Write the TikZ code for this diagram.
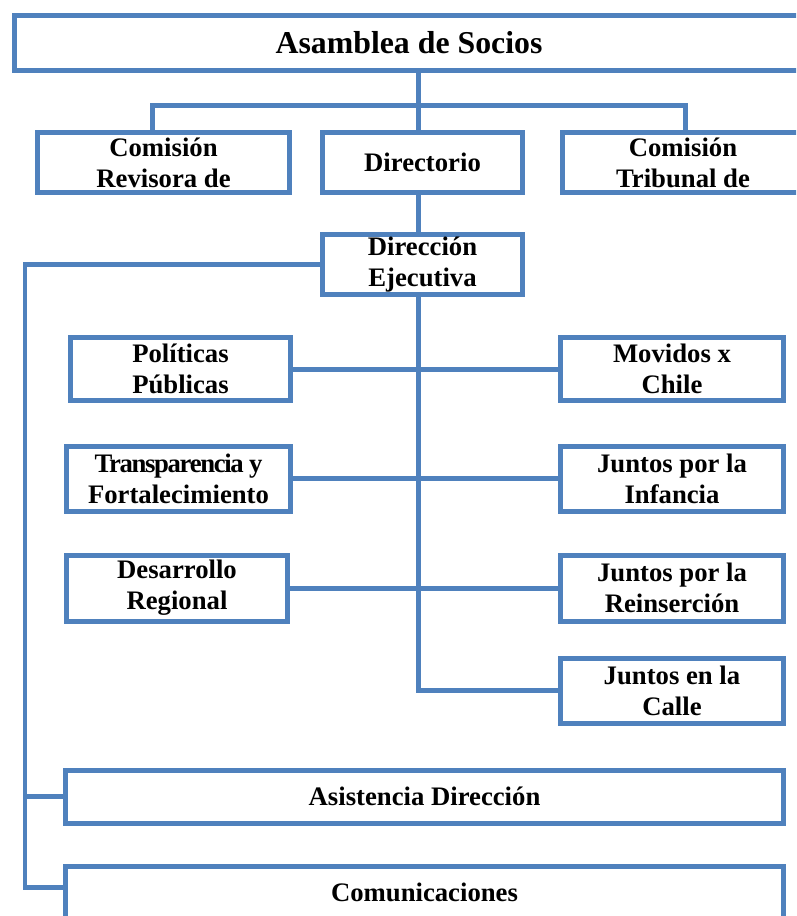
\documentclass[tikz,border=0pt]{standalone}
\usepackage{fontspec}
\setmainfont{Liberation Serif}
\definecolor{orgblue}{RGB}{79,129,189}
\begin{document}
\begin{tikzpicture}[x=0.02cm,y=-0.02cm,
  box/.style={draw=orgblue,line width=0.1cm,fill=white,align=center,inner sep=0pt,
    font=\fontsize{15.2}{17.6}\selectfont\bfseries},
  link/.style={draw=orgblue,line width=0.1cm}]
\path[use as bounding box,clip] (0,0) rectangle (796,916);
% top level
\node[box,minimum width=15.8cm,minimum height=1.12cm,font=\fontsize{18.1}{21}\selectfont\bfseries] (asamblea) at (409,43) {Asamblea de Socios};
\node[box,minimum width=5.06cm,minimum height=1.22cm] (comrev) at (163.5,162.5) {Comisión\\Revisora de};
\node[box,minimum width=4.02cm,minimum height=1.22cm] (directorio) at (422.5,162.5) {Directorio};
\node[box,minimum width=4.84cm,minimum height=1.22cm] (comtrib) at (683,162.5) {Comisión\\Tribunal de};
\node[box,minimum width=4.02cm,minimum height=1.22cm] (direccion) at (422.5,264.5) {Dirección\\Ejecutiva};
% areas
\node[box,minimum width=4.42cm,minimum height=1.28cm] (politicas) at (180.5,369) {Políticas\\Públicas};
\node[box,minimum width=4.48cm,minimum height=1.28cm] (movidos) at (672,369) {Movidos x\\Chile};
\node[box,minimum width=4.5cm,minimum height=1.3cm] (transparencia) at (178.5,478.5) {{\addfontfeature{LetterSpace=-5}Transparencia y}\\Fortalecimiento};
\node[box,minimum width=4.48cm,minimum height=1.3cm] (infancia) at (672,478.5) {Juntos por la\\Infancia};
\node[box,minimum width=4.44cm,minimum height=1.32cm] (desarrollo) at (177,588) {Desarrollo\\Regional};
\node[box,minimum width=4.48cm,minimum height=1.32cm] (reinsercion) at (672,588) {Juntos por la\\Reinserción};
\node[box,minimum width=4.48cm,minimum height=1.3cm] (calle) at (672,690.5) {Juntos en la\\Calle};
% support
\node[box,minimum width=14.38cm,minimum height=1.06cm] (asistencia) at (424.5,796.5) {Asistencia Dirección};
\node[box,minimum width=14.38cm,minimum height=1.06cm] (comunicaciones) at (424.5,892.5) {Comunicaciones};
% lines
\coordinate (trunk) at (418,0);
\coordinate (busL) at (152,105);
\coordinate (busR) at (685,105);
\coordinate (rail) at (25,887);
\draw[link] (asamblea.south -| trunk) -- (directorio.north -| trunk);
\draw[link] (comrev.north -| busL) -- (busL) -- (busR) -- (comtrib.north -| busR);
\draw[link] (directorio.south -| trunk) -- (direccion.north -| trunk);
\draw[link] (direccion.south -| trunk) |- (calle.west);
\draw[link] (politicas.east) -- (movidos.west);
\draw[link] (transparencia.east) -- (infancia.west);
\draw[link] (desarrollo.east) -- (reinsercion.west);
\draw[link] (direccion.west) -| (rail) -- (rail -| comunicaciones.west);
\draw[link] (asistencia.west -| rail) -- (asistencia.west);
\end{tikzpicture}
\end{document}
